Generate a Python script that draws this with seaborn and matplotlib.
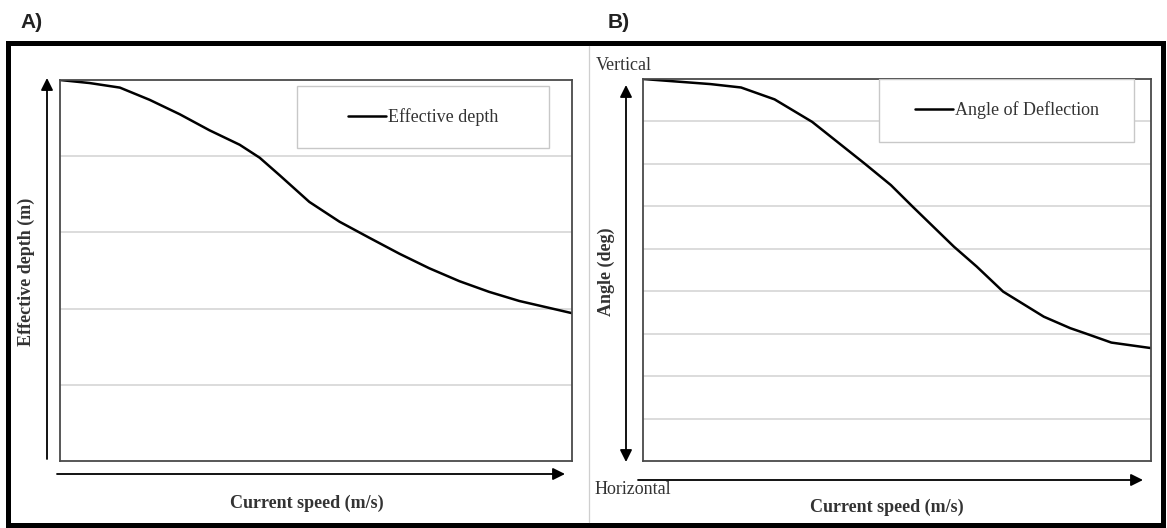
import numpy as np
import pandas as pd
import matplotlib
matplotlib.use("Agg")
import matplotlib.pyplot as plt
import seaborn as sns
from matplotlib.patches import Rectangle, FancyArrowPatch
from matplotlib.lines import Line2D

# data (relative scale, no tick labels in the original)
speed_a = [0.0, 0.58, 1.17, 1.75, 2.34, 2.92, 3.51, 3.9, 4.29, 4.87, 5.46, 6.04, 6.63, 7.21, 7.8, 8.38, 8.97, 9.55, 10.0]
depth_a = [5.0, 4.96, 4.9, 4.74, 4.55, 4.34, 4.15, 3.98, 3.75, 3.4, 3.14, 2.93, 2.72, 2.53, 2.36, 2.22, 2.1, 2.01, 1.94]

speed_b = [0.0, 1.33, 1.93, 2.59, 3.33, 4.36, 4.88, 5.31, 6.12, 6.57, 7.09, 7.89, 8.41, 8.7, 9.22, 10.0]
angle_b = [90.0, 88.8, 88.0, 85.2, 79.9, 70.1, 65.0, 59.9, 50.5, 45.8, 39.9, 34.0, 31.3, 30.1, 27.9, 26.6]

grid_a = [1, 2, 3, 4]
grid_b = [10, 20, 30, 40, 50, 60, 70, 80]

W, H = 1167, 528
sns.set_style("white")
plt.rcParams['font.family'] = ['Liberation Serif', 'DejaVu Serif']

fig = plt.figure(figsize=(W / 100, H / 100), dpi=100)


def px(x, y):
    # picture pixels (top-left origin) -> figure fraction
    return (x / W, 1 - y / H)


def box(x0, y0, x1, y1):
    return [x0 / W, 1 - y1 / H, (x1 - x0) / W, (y1 - y0) / H]


ax1 = fig.add_axes(box(60, 80, 572, 461))
ax2 = fig.add_axes(box(643, 79, 1151, 461))

df_a = pd.DataFrame({"speed": speed_a, "depth": depth_a})
df_b = pd.DataFrame({"speed": speed_b, "angle": angle_b})

sns.lineplot(data=df_a, x="speed", y="depth", ax=ax1, color="black", lw=1.8)
sns.lineplot(data=df_b, x="speed", y="angle", ax=ax2, color="black", lw=1.8)

for ax, lim, ticks in [(ax1, (0, 5), grid_a), (ax2, (0, 90), grid_b)]:
    ax.set_xlim(0, 10)
    ax.set_ylim(*lim)
    ax.set_yticks(ticks)
    ax.set_xticks([])
    ax.tick_params(left=False, labelleft=False)
    ax.grid(axis="y", color="#d6d6d6", lw=1.2)
    ax.set_xlabel("")
    ax.set_ylabel("")
    for s in ax.spines.values():
        s.set_color("#4a4a4a")
        s.set_linewidth(1.3)

# legend boxes
ax1.add_patch(Rectangle((0.463, 0.8215), 0.492, 0.1625, transform=ax1.transAxes,
                        fill=True, facecolor="white", edgecolor="#c8c8c8", lw=1.0, zorder=3))
ax2.add_patch(Rectangle((0.4655, 0.836), 0.501, 0.164, transform=ax2.transAxes,
                        fill=True, facecolor="white", edgecolor="#c8c8c8", lw=1.0, zorder=3))
ax1.legend([Line2D([], [], color="black", lw=1.8)], ["Effective depth"], frameon=False,
           loc="center", bbox_to_anchor=(0.709, 0.903), fontsize=13, handlelength=2.1,
           handletextpad=0.1, labelcolor="#333333").set_zorder(4)
ax2.legend([Line2D([], [], color="black", lw=1.8)], ["Angle of Deflection"], frameon=False,
           loc="center", bbox_to_anchor=(0.716, 0.918), fontsize=13, handlelength=2.1,
           handletextpad=0.1, labelcolor="#333333").set_zorder(4)

# axis arrows
def arrow(p0, p1, style="-|>"):
    fig.add_artist(FancyArrowPatch(px(*p0), px(*p1), transform=fig.transFigure,
                                   arrowstyle=style + ",head_length=0.6,head_width=0.3",
                                   mutation_scale=12, color="black", lw=1.3,
                                   shrinkA=0, shrinkB=0))


arrow((47, 459), (47, 78))
arrow((57, 474), (565, 474))
arrow((626, 85), (626, 462), "<|-|>")
arrow((638, 480), (1143, 480))

# labels
fig.text(*px(307, 503), "Current speed (m/s)", ha="center", va="center",
         fontsize=13, fontweight="bold", color="#333333")
fig.text(*px(887, 507), "Current speed (m/s)", ha="center", va="center",
         fontsize=13, fontweight="bold", color="#333333")
fig.text(*px(26, 272), "Effective depth (m)", ha="center", va="center", rotation=90,
         fontsize=13, fontweight="bold", color="#333333")
fig.text(*px(606, 272), "Angle (deg)", ha="center", va="center", rotation=90,
         fontsize=13, fontweight="bold", color="#333333")
fig.text(*px(596, 66), "Vertical", ha="left", va="center", fontsize=13, color="#333333")
fig.text(*px(595, 490), "Horizontal", ha="left", va="center", fontsize=13, color="#333333")

fig.text(*px(20, 23), "A)", ha="left", va="center", fontsize=15, fontweight="bold",
         family="Liberation Sans", color="#222222")
fig.text(*px(608, 23), "B)", ha="left", va="center", fontsize=15, fontweight="bold",
         family="Liberation Sans", color="#222222")

# outer frame and panel separator
fig.add_artist(Rectangle(px(8, 525), 1155 / W, 482 / H, transform=fig.transFigure,
                         fill=False, edgecolor="black", lw=3.6))
fig.add_artist(Line2D([589 / W, 589 / W], [1 - 46 / H, 1 - 522 / H],
                      transform=fig.transFigure, color="#cfcfcf", lw=0.9))

fig.savefig("out.png", dpi=100)
